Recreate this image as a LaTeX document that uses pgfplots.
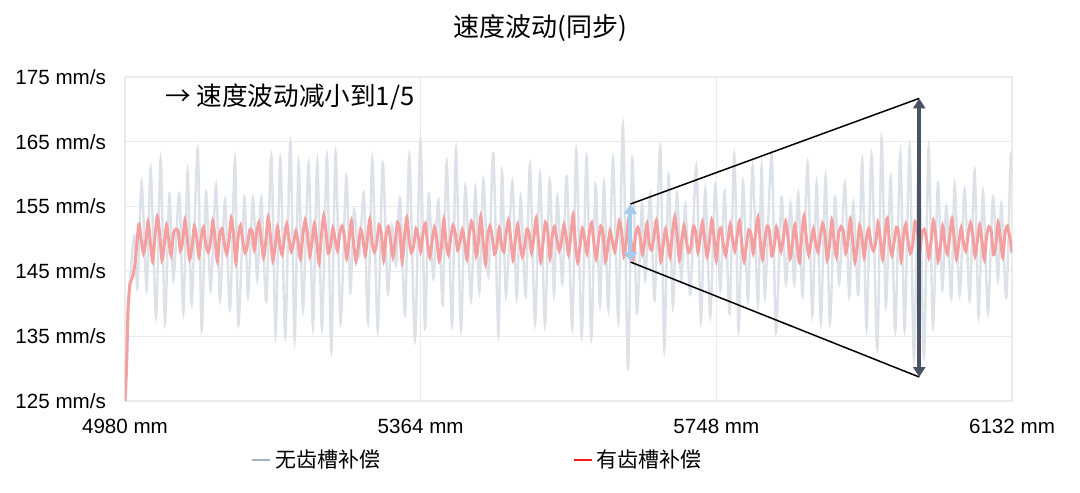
\documentclass[border=0pt]{standalone}
\usepackage{fontspec}
\setmainfont{Liberation Sans}
\newfontfamily\cjk{Noto Sans CJK SC}
\usepackage{pgfplots}
\pgfplotsset{compat=1.18}
\usetikzlibrary{arrows.meta}
\definecolor{grayline}{HTML}{DDE1E8}
\definecolor{redline}{HTML}{F5A0A0}
\definecolor{gridc}{HTML}{EBEBEB}
\definecolor{leggray}{HTML}{A7B0C0}
\definecolor{legred}{HTML}{FF1A1A}
\definecolor{lightblue}{HTML}{A8CDEB}
\definecolor{darkarrow}{HTML}{4A5366}
\begin{document}
\begin{tikzpicture}
\path[use as bounding box] (-62.5pt,-45.5pt) rectangle (477.5pt,200.5pt);
\begin{axis}[
  at={(0pt,0pt)}, anchor=south west,
  scale only axis, width=443.5pt, height=162pt,
  xmin=4980, xmax=6132, ymin=125, ymax=175,
  scaled x ticks=false, scaled y ticks=false,
  xtick={4980,5364,5748,6132},
  xticklabels={4980 mm,5364 mm,5748 mm,6132 mm},
  ytick={125,135,145,155,165,175},
  yticklabels={125 mm/s,135 mm/s,145 mm/s,155 mm/s,165 mm/s,175 mm/s},
  grid=major, major grid style={gridc, line width=0.6pt},
  axis line style={gridc, line width=0.6pt},
  major tick length=0pt,
  tick label style={font=\fontsize{10.3}{12}\selectfont},
  yticklabel style={xshift=-6pt},
  xticklabel style={yshift=-5.5pt},
  title={\cjk 速度波动(同步)},
  title style={at={(0.468,1.114)}, anchor=center, font=\fontsize{13}{15}\selectfont},
  legend style={at={(0.3985,-0.182)}, anchor=center, draw=none, fill=none,
    legend columns=2, /tikz/every even column/.append style={column sep=94pt},
    font=\fontsize{10.5}{12}\selectfont\cjk},
  legend image code/.code={\draw[#1] (0pt,0pt) -- (9pt,0pt);},
]
% gray: without cogging compensation
\addplot[grayline, line width=1.2pt, smooth, tension=0.45, forget plot] coordinates {
(4980,125)(4983,138)(4992,150.5)(4996,142.5)(5001.6,158.8)(5008.1,142.2)(5013.3,160.9)(5020.3,138.1)
(5026.3,162.2)(5031.9,137.0)(5037.6,157.0)(5042.8,143.7)(5050.5,157.0)(5055.7,138.6)(5061.4,160.4)
(5066.6,140.1)(5074.4,163.8)(5079.6,136.0)(5085.2,157.3)(5091.2,142.2)(5098.2,158.3)(5103.4,140.6)
(5109.9,156.0)(5116.4,139.1)(5122.8,162.3)(5127.2,136.8)(5135.0,156.4)
(5139.7,141.2)(5146.2,156.3)(5151.8,143.7)(5157.0,156.4)(5163.5,140.4)(5170.0,162.8)(5175.6,135.3)
(5181.7,162.4)(5188.2,135.0)(5194.7,165.0)(5200.3,134.5)(5205.5,161.8)(5211.1,139.1)(5218.5,161.6)
(5224.1,136.5)(5229.7,161.9)(5235.8,136.3)(5242.3,162.8)(5247.9,132.7)(5253.5,163.3)(5260.0,137.1)
(5267.4,159.7)(5272.6,141.7)(5277.4,154.5)(5283.9,147.3)(5290.3,157.0)(5295.5,137.1)(5301.2,162.3)
(5308.2,136.0)(5314.7,161.7)(5321.2,141.7)(5326.8,152.0)(5332.0,146.0)(5337.2,156.3)(5343.7,138.3)
(5349.3,162.9)(5356.6,134.5)(5363.6,165.2)(5369.6,136.3)(5374.4,157.0)(5380.5,144.0)(5386.9,156.0)
(5392.6,139.9)(5397.8,161.7)(5404.7,136.8)(5409.9,163.7)(5416.4,136.0)(5422.0,158.1)(5429.4,140.6)
(5435.0,157.8)(5440.2,141.9)(5445.4,159.1)(5451.9,144.2)(5458.4,163.2)(5464.9,135.3)(5469.6,160.4)
(5474.8,141.2)(5483.0,158.8)(5488.7,140.9)(5493.8,156.5)(5500.3,141.2)(5506.0,161.4)(5512.5,137.1)
(5518.9,159.9)(5525.4,136.8)(5531.5,159.1)(5537.1,141.4)(5541.5,156.5)(5548.0,143.2)(5553.6,159.6)
(5560.9,136.3)(5566.1,163.7)(5573.1,135.0)(5579.5,162.7)(5585.6,134.7)(5591.2,158.3)(5596.9,139.9)
(5602.1,158.6)(5607.7,139.1)(5613.8,162.3)(5620.7,137.3)(5626.7,167.6)(5633.2,130.1)(5638.8,162.4)
(5644.9,138.6)(5651.4,155.5)(5655.7,143.7)(5662.2,157.0)(5667.8,140.6)(5675.2,164.3)(5680.4,133.0)
(5686.0,159.9)(5691.6,139.6)(5696.8,157.0)(5702.5,143.6)(5707.7,155.3)(5714.2,141.4)(5721.9,161.2)
(5728.0,137.3)(5733.6,157.6)(5740.1,138.1)(5746.6,158.3)(5753.1,142.2)(5758.7,157.3)(5765.2,138.6)
(5771.3,162.9)(5776.9,136.0)(5782.6,158.8)(5789.0,140.6)(5795.1,161.2)(5802.0,139.9)
(5806.8,161.2)(5811.1,141.2)(5819.8,163.2)(5825.4,135.6)(5832.7,156.5)(5838.4,143.1)(5844.4,155.5)
(5849.2,143.2)(5854.4,157.0)(5860.0,141.2)(5866.5,161.7)(5872.6,138.3)(5878.2,158.6)(5883.8,137.1)
(5889.9,159.6)(5895.5,137.1)(5902.0,156.5)(5907.6,143.2)(5915.0,158.6)(5920.6,141.2)(5925.8,155.5)
(5932.3,141.4)(5937.5,162.2)(5943.1,136.3)(5949.6,162.9)(5957.0,133.0)(5962.6,165.5)(5968.2,139.6)
(5974.4,159.4)(5980.4,135.8)(5986.9,163.2)(5992.5,136.0)(5999.0,164.2)(6004.7,131.4)(6011.0,163.7)
(6017.6,131.9)(6023.7,164.0)(6029.3,136.5)(6035.8,158.6)(6041.5,142.2)(6046.7,155.0)(6053.1,140.9)
(6057.5,158.3)(6064.0,141.4)(6070.5,157.6)(6077.0,140.6)(6083.4,160.4)(6088.6,138.1)(6094.3,157.3)
(6100.8,138.6)(6107.3,156.5)(6113.7,143.7)(6118.1,155.5)(6124.6,140.9)(6130.2,162.4)(6132,160.5)
};
% red: with cogging compensation
\addplot[redline, line width=1.5pt, smooth, tension=0.4, forget plot] coordinates {
(4980,125)(4982,130)(4984,139)(4986.5,143)(4990,144.2)(4993,146.3)
(4998,152.2)(5001,150.0)(5004,147.8)(5007,149.6)
(5010,152.7)(5013,149.4)(5016,146.5)(5019,150.4)
(5022,153.5)(5025,150.8)(5028,146.8)(5031,149.0)
(5034,152.2)(5037,149.7)(5040,147.5)(5043,150.9)
(5046,151.5)(5049,151.2)(5052,148.2)(5055,149.8)
(5058,153.0)(5061,149.9)(5064,146.9)(5067,148.8)
(5070,152.0)(5073,150.3)(5076,147.3)(5079,150.2)
(5082,151.8)(5085,149.2)(5088,148.0)(5091,149.5)
(5094,152.8)(5097,150.0)(5100,146.6)(5103,150.6)
(5106,151.6)(5109,149.4)(5112,147.7)(5115,149.6)
(5118,153.2)(5121,150.8)(5124,146.4)(5127,150.4)
(5130,152.1)(5133,149.7)(5136,147.9)(5139,149.0)
(5142,151.4)(5145,151.2)(5148,148.3)(5151,150.9)
(5154,152.6)(5157,149.9)(5160,147.1)(5163,149.8)
(5166,153.4)(5169,150.3)(5172,146.7)(5175,148.8)
(5178,151.9)(5181,149.2)(5184,147.6)(5187,150.2)
(5190,152.3)(5193,150.0)(5196,148.1)(5199,149.5)
(5202,151.2)(5205,149.4)(5208,146.9)(5211,150.6)
(5214,152.9)(5217,150.8)(5220,147.4)(5223,149.6)
(5226,152.4)(5229,149.7)(5232,146.3)(5235,150.4)
(5238,153.6)(5241,151.2)(5244,147.8)(5247,149.0)
(5250,151.7)(5253,149.9)(5256,148.2)(5259,150.9)
(5262,152.0)(5265,150.3)(5268,147.0)(5271,149.8)
(5274,152.8)(5277,149.2)(5280,146.6)(5283,148.8)
(5286,151.5)(5289,150.0)(5292,147.5)(5295,150.2)
(5298,153.1)(5301,149.4)(5304,148.0)(5307,149.5)
(5310,152.2)(5313,150.8)(5316,146.8)(5319,150.6)
(5322,151.9)(5325,149.7)(5328,147.3)(5331,149.6)
(5334,152.6)(5337,151.2)(5340,146.5)(5343,150.4)
(5346,153.3)(5349,149.9)(5352,147.9)(5355,149.0)
(5358,151.6)(5361,150.3)(5364,148.1)(5367,150.9)
(5370,152.4)(5373,149.2)(5376,147.2)(5379,149.8)
(5382,151.8)(5385,150.0)(5388,146.7)(5391,148.8)
(5394,153.0)(5397,149.4)(5400,147.6)(5403,150.2)
(5406,152.1)(5409,150.8)(5412,148.3)(5415,149.5)
(5418,151.4)(5421,149.7)(5424,146.9)(5427,150.6)
(5430,152.7)(5433,151.2)(5436,147.4)(5439,149.6)
(5442,153.5)(5445,149.9)(5448,146.2)(5451,150.4)
(5454,152.0)(5457,150.3)(5460,147.7)(5463,149.0)
(5466,151.7)(5469,149.2)(5472,148.0)(5475,150.9)
(5478,152.9)(5481,150.0)(5484,146.8)(5487,149.8)
(5490,152.3)(5493,149.4)(5496,147.3)(5499,148.8)
(5502,151.5)(5505,150.8)(5508,147.9)(5511,150.2)
(5514,153.2)(5517,149.7)(5520,146.5)(5523,149.5)
(5526,152.6)(5529,151.2)(5532,147.1)(5535,150.6)
(5538,151.9)(5541,149.9)(5544,148.2)(5547,149.6)
(5550,152.2)(5553,150.3)(5556,147.6)(5559,150.4)
(5562,153.8)(5565,149.2)(5568,146.4)(5571,149.0)
(5574,151.6)(5577,150.0)(5580,147.8)(5583,150.9)
(5586,152.5)(5589,149.4)(5592,147.0)(5595,149.8)
(5598,152.0)(5601,150.8)(5604,146.6)(5607,148.8)
(5610,151.3)(5613,149.7)(5616,148.1)(5619,150.2)
(5622,152.8)(5625,151.2)(5628,147.4)(5631,149.5)
(5634,153.1)(5637,149.9)(5640,146.9)(5643,150.6)
(5646,151.8)(5649,150.3)(5652,147.7)(5655,149.6)
(5658,152.4)(5661,149.2)(5664,148.3)(5667,150.4)
(5670,152.9)(5673,150.0)(5676,146.5)(5679,149.0)
(5682,151.5)(5685,149.4)(5688,147.2)(5691,150.9)
(5694,153.4)(5697,150.8)(5700,146.8)(5703,149.8)
(5706,152.1)(5709,149.7)(5712,147.9)(5715,148.8)
(5718,151.9)(5721,151.2)(5724,148.0)(5727,150.2)
(5730,152.6)(5733,149.9)(5736,147.3)(5739,149.5)
(5742,153.0)(5745,150.3)(5748,146.7)(5751,150.6)
(5754,151.7)(5757,149.2)(5760,147.5)(5763,149.6)
(5766,152.3)(5769,150.0)(5772,148.2)(5775,150.4)
(5778,152.8)(5781,149.4)(5784,146.6)(5787,149.0)
(5790,151.4)(5793,150.8)(5796,147.8)(5799,150.9)
(5802,153.3)(5805,149.7)(5808,146.9)(5811,149.8)
(5814,152.0)(5817,151.2)(5820,147.4)(5823,148.8)
(5826,151.8)(5829,149.9)(5832,148.1)(5835,150.2)
(5838,152.7)(5841,150.3)(5844,147.0)(5847,149.5)
(5850,152.2)(5853,149.2)(5856,146.4)(5859,150.6)
(5862,153.6)(5865,150.0)(5868,147.6)(5871,149.6)
(5874,151.5)(5877,149.4)(5880,148.0)(5883,150.4)
(5886,152.4)(5889,150.8)(5892,146.8)(5895,149.0)
(5898,152.9)(5901,149.7)(5904,147.3)(5907,150.9)
(5910,151.9)(5913,151.2)(5916,147.9)(5919,149.8)
(5922,153.0)(5925,149.9)(5928,146.5)(5931,148.8)
(5934,152.1)(5937,150.3)(5940,147.2)(5943,150.2)
(5946,151.6)(5949,149.2)(5952,148.2)(5955,149.5)
(5958,152.6)(5961,150.0)(5964,146.9)(5967,150.6)
(5970,153.2)(5973,149.4)(5976,147.5)(5979,149.6)
(5982,151.8)(5985,150.8)(5988,146.7)(5991,150.4)
(5994,152.3)(5997,149.7)(6000,147.8)(6003,149.0)
(6006,152.7)(6009,151.2)(6012,148.0)(6015,150.9)
(6018,151.5)(6021,149.9)(6024,147.1)(6027,149.8)
(6030,152.9)(6033,150.3)(6036,146.6)(6039,148.8)
(6042,152.0)(6045,149.2)(6048,147.7)(6051,150.2)
(6054,153.1)(6057,150.0)(6060,146.9)(6063,149.5)
(6066,151.7)(6069,149.4)(6072,148.1)(6075,150.6)
(6078,152.5)(6081,150.8)(6084,147.4)(6087,149.6)
(6090,152.2)(6093,149.7)(6096,146.8)(6099,150.4)
(6102,151.9)(6105,151.2)(6108,147.6)(6111,149.0)
(6114,152.6)(6117,149.9)(6120,147.2)(6123,150.9)
(6126,152.0)(6129,150.3)(6132,147.9)
};
\addlegendimage{leggray, line width=1.2pt}
\addlegendentry{无齿槽补偿}
\addlegendimage{legred, line width=1.2pt}
\addlegendentry{有齿槽补偿}
% annotations
\draw[black, line width=0.75pt] (axis cs:5636.5,155.4) -- (axis cs:6011.5,171.7);
\draw[black, line width=0.75pt] (axis cs:5636.5,146.45) -- (axis cs:6011.5,128.7);
\draw[lightblue, line width=2pt, {Triangle[width=6.5pt,length=5pt]}-{Triangle[width=6.5pt,length=5pt]}] (axis cs:5636.5,155.4) -- (axis cs:5636.5,146.45);
\draw[darkarrow, line width=2pt, {Triangle[width=6pt,length=5pt]}-{Triangle[width=6pt,length=5pt]}] (axis cs:6011.5,171.7) -- (axis cs:6011.5,128.7);
\node[anchor=west, inner sep=0pt, font=\fontsize{12.8}{14}\selectfont\cjk] at (axis cs:5032,171.9) {→ 速度波动减小到1/5};
\end{axis}
\end{tikzpicture}
\end{document}
